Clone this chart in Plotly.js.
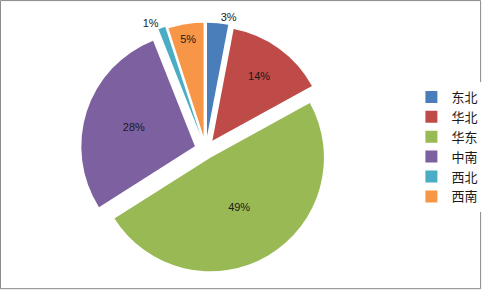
<!DOCTYPE html>
<html><head><meta charset="utf-8">
<script src="https://cdn.plot.ly/plotly-3.0.1.min.js"></script>
<style>html,body{margin:0;padding:0;background:#fff}#c{width:484px;height:291px}</style>
</head><body><div id="c"></div>
<script>
const regions = ['东北','华北','华东','中南','西北','西南'];
const shares = [3, 14, 49, 28, 1, 5];
const colors = ['#4A7EBB','#BE4B48','#98B954','#7D60A0','#4BACC6','#F79646'];
const pulls = [0.12, 0.1, 0.08, 0.1, 0.14, 0.12];
const textPos = ['outside','inside','inside','inside','outside','inside'];

const trace = {
  type: 'pie',
  labels: regions,
  values: shares,
  sort: false,
  direction: 'clockwise',
  rotation: 0,
  pull: pulls,
  marker: {colors: colors, line: {color: '#ffffff', width: 0}},
  textinfo: 'percent',
  texttemplate: '%{percent:.0%}',
  textposition: textPos,
  insidetextorientation: 'horizontal',
  textfont: {family: 'Liberation Sans, Arial, sans-serif', size: 11, color: '#1a1a1a'},
  outsidetextfont: {family: 'Liberation Sans, Arial, sans-serif', size: 11, color: '#1a1a1a'},
  hoverinfo: 'label+percent',
  domain: {x: [0.02, 0.83], y: [0.04, 0.93]},
  showlegend: true
};

const layout = {
  width: 484, height: 291,
  margin: {l: 0, r: 0, t: 0, b: 0},
  paper_bgcolor: '#ffffff',
  showlegend: true,
  legend: {
    x: 0.85, y: 0.495, xanchor: 'left', yanchor: 'middle',
    font: {family: 'Noto Sans CJK SC, sans-serif', size: 13, color: '#1a1a1a'},
    itemwidth: 30, tracegroupgap: 0
  },
  shapes: [{
    type: 'rect', xref: 'paper', yref: 'paper',
    x0: 0.001, x1: 0.993, y0: 0.008, y1: 0.998,
    line: {color: '#888888', width: 1}, fillcolor: 'rgba(0,0,0,0)'
  }]
};

Plotly.newPlot('c', [trace], layout, {displayModeBar: false, staticPlot: true});
</script></body></html>
